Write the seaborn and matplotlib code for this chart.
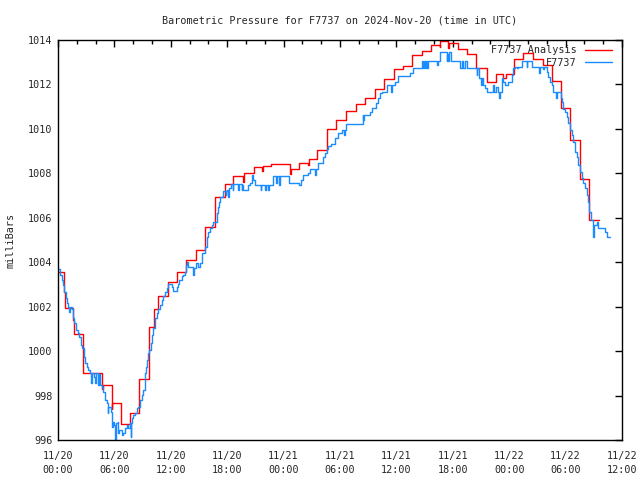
import numpy as np
import pandas as pd
import matplotlib
matplotlib.use("Agg")
import matplotlib.pyplot as plt
from matplotlib.ticker import MultipleLocator
import seaborn as sns

# hours since 2024-11-20 00:00 UTC, pressure in mb (change points, drawn as steps)
red_hours = [0, 0.67, 0.78, 1.63, 1.74, 2.7, 4.65, 4.8, 5.7, 5.75, 6.7, 7.66, 8.65,
             9.68, 10.2, 10.67, 11.7, 12.7, 13.6, 14.65, 15.67, 16.7, 17.77, 18.65,
             19.7, 19.8, 20.8, 21.7, 21.8, 22.7, 24.7, 24.8, 25.6, 26.6, 26.7, 27.6,
             28.65, 29.6, 30.6, 31.7, 32.7, 33.7, 34.7, 35.7, 36.7, 37.7, 38.7, 39.65,
             40.6, 40.65, 41.5, 41.6, 42.6, 43.5, 44.5, 45.6, 46.6, 47.3, 47.7, 48.5,
             49.5, 50.5, 51.55, 52.5, 53.5, 54.5, 55.5, 56.5, 57.6]
red_mbar = [1003.55, 1002.67, 1001.95, 1001.4, 1000.77, 999.0, 998.3, 998.47, 997.4,
            997.65, 996.72, 997.2, 998.75, 1001.1, 1001.9, 1002.5, 1003.1, 1003.55,
            1004.1, 1004.55, 1005.57, 1006.92, 1007.5, 1007.88, 1007.63, 1008.03,
            1008.27, 1008.12, 1008.35, 1008.42, 1007.95, 1008.2, 1008.47, 1008.38,
            1008.63, 1009.05, 1009.98, 1010.4, 1010.8, 1011.1, 1011.38, 1011.8,
            1012.25, 1012.7, 1012.83, 1013.33, 1013.5, 1013.78, 1013.7, 1013.95,
            1013.65, 1013.85, 1013.58, 1013.36, 1012.73, 1012.1, 1012.45, 1012.28,
            1012.45, 1013.15, 1013.4, 1013.15, 1012.88, 1012.15, 1010.95, 1009.5,
            1007.75, 1005.9, 1005.9]

blue_hours = [0.0, 0.21, 0.39, 0.57, 0.67, 0.82, 0.92, 1.03, 1.17, 1.25, 1.5, 1.63, 1.74,
              1.88, 2.09, 2.23, 2.45, 2.59, 2.77, 2.87, 3.05, 3.23, 3.4, 3.51, 3.6, 3.83,
              3.94, 4.05, 4.22, 4.3, 4.4, 4.52, 4.65, 4.82, 5.0, 5.18, 5.28, 5.35, 5.6,
              5.71, 5.78, 5.89, 6.0, 6.06, 6.12, 6.35, 6.42, 6.5, 6.77, 6.95, 7.13, 7.3,
              7.48, 7.66, 7.72, 7.78, 7.84, 8.01, 8.19, 8.37, 8.55, 8.72, 8.9, 9.08, 9.26,
              9.33, 9.43, 9.61, 9.72, 9.86, 9.96, 10.14, 10.32, 10.5,
              10.67, 10.85, 11.03, 11.2, 11.38, 11.63, 11.74, 12.09, 12.27, 12.7, 12.8,
              12.9, 13.16, 13.33, 13.51, 13.62, 13.76, 13.87, 14.4, 14.47, 14.65, 14.93,
              15.1, 15.28, 15.64, 15.82, 15.99, 16.17, 16.35, 16.52, 16.88, 16.99, 17.13,
              17.23, 17.59, 17.87, 17.92, 18.01, 18.12, 18.17, 18.22, 18.4, 18.58, 18.63,
              19.18, 19.23, 19.54, 19.6,
              19.65, 20.25, 20.43, 20.6, 20.78, 20.96, 21.56, 21.62, 22.02, 22.08, 22.38,
              22.44, 22.9, 23.19, 23.26, 23.55, 23.62, 24.61, 25.67, 25.82, 26.1, 26.63,
              26.81, 27.34, 27.4, 27.7, 28.16, 28.4, 28.58, 28.76, 29.0, 29.47, 29.82,
              30.18, 30.46, 30.52, 30.64, 32.41, 32.48, 32.54, 33.19, 33.37, 33.79, 34.08,
              34.26, 34.43, 34.96, 35.43, 35.5, 35.85, 36.2, 37.45, 37.73, 38.69, 38.79,
              38.94, 39.04, 39.15, 39.29, 39.4, 40.28, 40.46, 40.64, 41.35, 41.42, 41.52,
              41.63, 41.77, 42.77, 42.94, 43.12, 43.3, 43.48, 44.54, 44.6, 44.82, 44.96,
              45.07, 45.25, 45.43, 45.6, 46.31, 46.38, 46.6, 46.84, 46.95, 47.02, 47.2,
              47.38, 47.55, 47.9, 48.26, 48.44, 48.62, 48.79, 48.9, 49.33, 49.86, 49.92,
              50.39, 51.17, 51.25, 51.56, 51.7, 51.99, 52.16, 52.34, 52.52, 52.7, 52.98,
              53.04, 53.48, 53.58, 53.76, 53.94, 54.11, 54.29, 54.47, 54.65, 54.82, 55.0,
              55.18, 55.35, 55.53, 55.71, 55.89, 56.06, 56.24, 56.42, 56.52, 56.67, 56.88,
              56.95, 57.02, 57.3, 57.48, 58.19, 58.37, 58.72]
blue_mbar = [1003.7, 1003.43, 1003.2, 1002.98, 1002.68, 1002.38, 1002.15, 1002.0, 1001.75,
             1002.0, 1001.9, 1001.48, 1001.25, 1000.95, 1000.8, 1000.65, 1000.28, 1000.13,
             999.75, 999.45, 999.3, 999.15, 999.0, 998.55, 999.0, 998.85, 998.55, 999.0,
             998.6, 998.48, 998.95, 998.48, 998.4, 998.17, 997.8, 997.65, 997.2, 997.5,
             997.28, 996.9, 996.6, 996.83, 996.68, 996.05, 996.75, 996.83, 996.3, 996.45,
             996.23, 996.3, 996.53, 996.68, 996.53, 996.75, 996.15, 996.75, 996.98, 997.13,
             997.2, 997.43, 997.5, 997.8, 998.03, 998.25, 999.0, 999.3, 999.6, 999.9,
             1000.05, 1000.35, 1000.73, 1001.03, 1001.48, 1001.7,
             1001.88, 1002.08, 1002.3, 1002.5, 1002.68, 1002.83, 1003.02, 1002.9, 1002.72,
             1002.9, 1003.02, 1003.2, 1003.38, 1003.43, 1003.58, 1003.88, 1004.03, 1003.8,
             1003.43, 1003.75, 1003.98, 1003.8, 1003.95, 1004.4, 1004.7, 1005.15, 1005.38,
             1005.53, 1005.68, 1005.83, 1006.2, 1006.5, 1006.72, 1006.92, 1007.22, 1007.02,
             1007.22, 1007.25, 1006.95, 1007.25, 1007.36, 1007.5, 1007.25, 1007.5, 1007.25,
             1007.5, 1007.25, 1007.48,
             1007.25, 1007.48, 1007.55, 1007.93, 1007.7, 1007.48, 1007.25, 1007.48, 1007.25,
             1007.48, 1007.25, 1007.48, 1007.88, 1007.55, 1007.88, 1007.48, 1007.88,
             1007.55, 1007.48, 1007.7, 1007.93, 1008.0, 1008.18, 1007.93, 1008.18, 1008.48,
             1008.75, 1008.9, 1009.08, 1009.23, 1009.3, 1009.58, 1009.8, 1009.95, 1009.73,
             1009.95, 1010.2, 1010.63, 1010.4, 1010.63, 1010.78, 1010.96, 1011.15, 1011.38,
             1011.6, 1011.68, 1011.98, 1011.65, 1011.98, 1012.13, 1012.4, 1012.5, 1012.73,
             1013.05, 1012.73, 1013.05, 1012.73, 1013.05, 1012.73, 1013.05, 1012.88,
             1013.05, 1013.45, 1013.05, 1013.36, 1013.05, 1013.45, 1013.05, 1012.73,
             1013.05, 1012.73, 1013.05, 1012.73, 1012.43, 1012.73, 1012.28, 1011.98,
             1012.28, 1011.98, 1011.83, 1011.68, 1011.98, 1011.68, 1011.9, 1011.68,
             1011.38, 1011.68, 1012.28, 1012.13, 1011.98, 1012.13, 1012.43, 1012.73,
             1012.8, 1012.73, 1012.8, 1013.05, 1012.8, 1013.05, 1012.8, 1012.5, 1012.8,
             1012.7, 1012.8, 1012.58, 1012.35, 1012.13, 1011.98, 1011.68, 1011.4, 1011.68,
             1011.38, 1011.23, 1010.9, 1010.78, 1010.55, 1010.25, 1009.95, 1009.73,
             1009.43, 1008.98, 1008.75, 1008.38, 1008.08, 1007.78, 1007.55, 1007.33,
             1007.03, 1006.73, 1006.28, 1005.9, 1005.68, 1005.15, 1005.68, 1005.83,
             1005.56, 1005.38, 1005.15, 1005.15]

tick_hours = [0, 6, 12, 18, 24, 30, 36, 42, 48, 54, 60]
tick_labels = ["11/20\n00:00", "11/20\n06:00", "11/20\n12:00", "11/20\n18:00",
               "11/21\n00:00", "11/21\n06:00", "11/21\n12:00", "11/21\n18:00",
               "11/22\n00:00", "11/22\n06:00", "11/22\n12:00"]

red_df = pd.DataFrame({"hours": red_hours, "mbar": red_mbar})
blue_df = pd.DataFrame({"hours": blue_hours, "mbar": blue_mbar})

sns.set_theme(style="white")
plt.rcParams["font.family"] = ["DejaVu Sans Mono"]
fs = 7.3

fig = plt.figure(figsize=(6.4, 4.8), dpi=100)
ax = fig.add_axes([58 / 640, 40 / 480, 564 / 640, 400 / 480])

sns.lineplot(data=red_df, x="hours", y="mbar", color="#ff0000", lw=1.0,
             drawstyle="steps-post", estimator=None, sort=False,
             label="F7737 Analysis", ax=ax)
sns.lineplot(data=blue_df, x="hours", y="mbar", color="#1a8cff", lw=1.0,
             drawstyle="steps-post", estimator=None, sort=False,
             label="F7737", ax=ax)

ax.set_xlim(0, 60)
ax.set_ylim(996, 1014)
ax.set_xticks(tick_hours)
ax.set_xticklabels(tick_labels, fontsize=fs, linespacing=1.5)
ax.xaxis.set_minor_locator(MultipleLocator(2))
ax.yaxis.set_major_locator(MultipleLocator(2))
ax.tick_params(axis="y", labelsize=fs)
ax.tick_params(which="both", direction="in", top=True, right=True, width=1, color="black")
ax.tick_params(which="major", length=5, pad=4)
ax.tick_params(which="minor", length=3)
ax.tick_params(axis="x", which="major", pad=8)
for s in ax.spines.values():
    s.set_color("black")
    s.set_linewidth(1)

ax.set_xlabel("")
ax.set_ylabel("milliBars", fontsize=fs, labelpad=9)
ax.set_title("Barometric Pressure for F7737 on 2024-Nov-20 (time in UTC)",
             fontsize=fs, pad=12)

ax.legend(loc="upper right", bbox_to_anchor=(0.995, 1.005), frameon=False,
          markerfirst=False, fontsize=fs, handlelength=2.7, handletextpad=0.8,
          labelspacing=0.28, borderaxespad=0.3)

fig.savefig("out.png", dpi=100)
